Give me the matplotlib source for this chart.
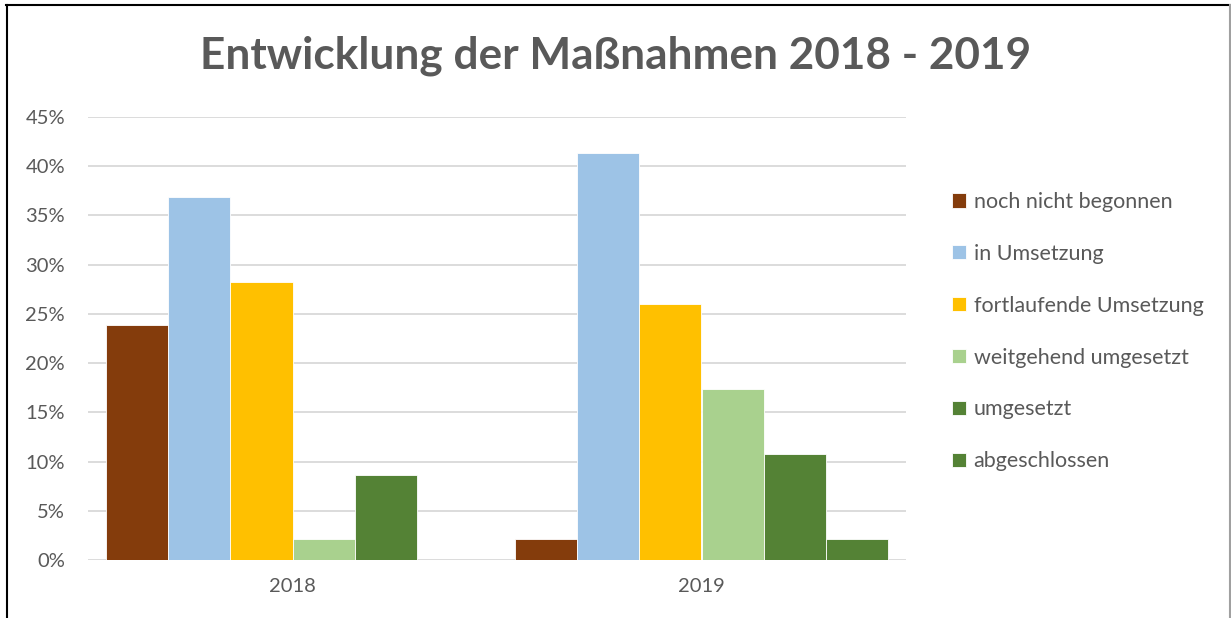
import matplotlib
matplotlib.use("Agg")
import matplotlib.pyplot as plt
import numpy as np
from matplotlib.lines import Line2D
from matplotlib.ticker import FuncFormatter

# Daten
jahre = ["2018", "2019"]
kategorien = ["noch nicht begonnen", "in Umsetzung", "fortlaufende Umsetzung",
              "weitgehend umgesetzt", "umgesetzt", "abgeschlossen"]
werte_2018 = [23.9, 36.9, 28.2, 2.1, 8.6, 0.0]
werte_2019 = [2.1, 41.3, 26.0, 17.4, 10.8, 2.1]
farben = ["#843C0C", "#9DC3E6", "#FFC000", "#A9D18E", "#548235", "#548235"]

plt.rcParams['font.family'] = ['Lato', 'DejaVu Sans']
grau = "#595959"

fig = plt.figure(figsize=(12.31, 6.18), dpi=100)
ax = fig.add_axes([88 / 1231, 1 - 560 / 618, (906 - 88) / 1231, (560 - 117) / 618])

x = np.arange(len(jahre))
breite = 0.1523
for i, kat in enumerate(kategorien):
    hoehen = [werte_2018[i], werte_2019[i]]
    ax.bar(x + (i - 2.5) * breite, hoehen, width=breite, color=farben[i],
           label=kat, edgecolor="white", linewidth=0.6, zorder=3)

ax.set_xlim(-0.5, 1.5)
ax.set_ylim(0, 45)
ax.set_yticks(np.arange(0, 46, 5))
ax.yaxis.set_major_formatter(FuncFormatter(lambda v, p: f"{int(v)}%"))
ax.set_xticks(x)
ax.set_xticklabels(jahre)
ax.grid(axis="y", color="#D9D9D9", linewidth=1.3, zorder=0)
for s in ax.spines.values():
    s.set_visible(False)
ax.tick_params(axis="both", length=0, labelsize=14.5, colors=grau)
ax.tick_params(axis="y", pad=16.5)
ax.tick_params(axis="x", pad=13)

fig.text(0.5, 1 - 56 / 618, "Entwicklung der Maßnahmen 2018 - 2019", ha="center",
         va="center", fontsize=31.8, fontweight="bold", color=grau)

leg = ax.legend(loc="upper left", bbox_to_anchor=(952 / 1231, 1 - 192 / 618),
                bbox_transform=fig.transFigure, frameon=False, fontsize=15.5,
                labelcolor=grau, handlelength=0.65, handleheight=0.65,
                handletextpad=0.35, labelspacing=1.48, borderpad=0, borderaxespad=0)

# Rahmen
fig.add_artist(Line2D([6 / 1231, 1230 / 1231], [1 - 5 / 618, 1 - 5 / 618],
                      transform=fig.transFigure, color="black", linewidth=1.5))
fig.add_artist(Line2D([7 / 1231, 7 / 1231], [0, 1 - 5 / 618],
                      transform=fig.transFigure, color="black", linewidth=1.5))
fig.add_artist(Line2D([1229.5 / 1231, 1229.5 / 1231], [0, 1 - 5 / 618],
                      transform=fig.transFigure, color="#A0A0A0", linewidth=1.5))

fig.savefig("out.png", dpi=100)
